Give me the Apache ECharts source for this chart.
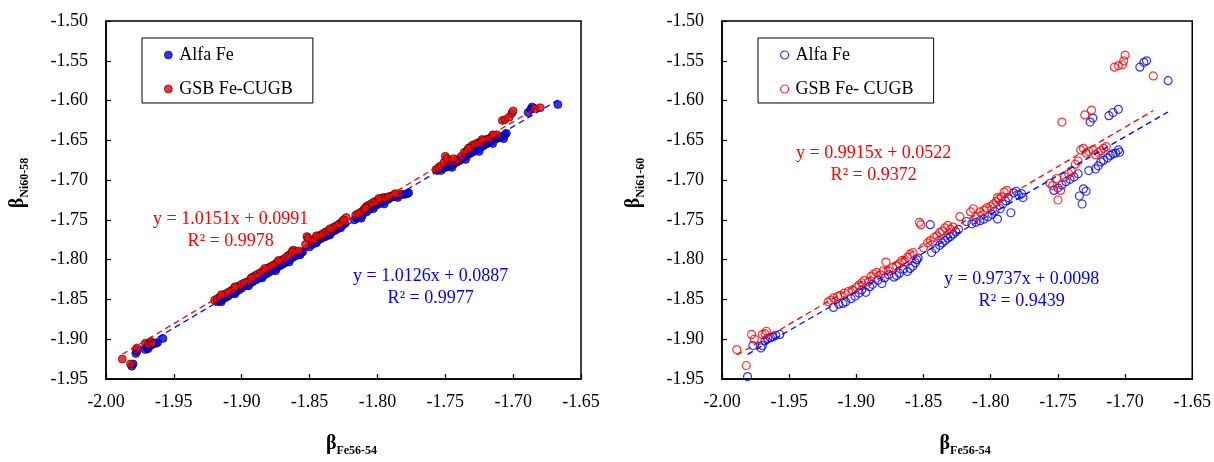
<!DOCTYPE html>
<html>
<head>
<meta charset="utf-8">
<script src="https://cdn.jsdelivr.net/npm/echarts@6/dist/echarts.min.js"></script>
<style>
  html, body { margin: 0; padding: 0; background: #fff; }
  #wrap { width: 1214px; height: 462px; position: relative; }
  #left, #right { position: absolute; top: 0; width: 607px; height: 462px; }
  #left { left: 0; }
  #right { left: 607px; }
</style>
</head>
<body>
<div id="wrap"><div id="left"></div><div id="right"></div></div>
<script>
// ---------- tick setup ----------
const xTicks = { min: -2.00, max: -1.65, interval: 0.05 };
const yTicks = { min: -1.95, max: -1.50, interval: 0.05 };

// ---------- left panel (Ni60-58) ----------
const leftAlfa = [
  [-1.981,-1.934],[-1.980,-1.931],[-1.978,-1.918],[-1.977,-1.915],[-1.971,-1.913],[-1.970,-1.910],[-1.969,-1.912],[-1.967,-1.908],[-1.965,-1.906],[-1.963,-1.905],[-1.962,-1.904],[-1.958,-1.899],
  [-1.918,-1.853],[-1.916,-1.852],[-1.914,-1.849],[-1.912,-1.848],[-1.910,-1.846],[-1.908,-1.843],[-1.906,-1.842],[-1.904,-1.840],[-1.902,-1.838],[-1.900,-1.836],[-1.898,-1.833],[-1.896,-1.832],[-1.894,-1.830],[-1.892,-1.828],[-1.890,-1.826],[-1.888,-1.824],[-1.886,-1.822],[-1.884,-1.820],[-1.882,-1.818],[-1.880,-1.816],[-1.878,-1.814],[-1.876,-1.812],[-1.874,-1.810],[-1.872,-1.808],[-1.870,-1.806],[-1.868,-1.804],[-1.866,-1.801],[-1.864,-1.799],[-1.862,-1.797],[-1.860,-1.795],[-1.858,-1.793],[-1.856,-1.791],[-1.855,-1.790],
  [-1.915,-1.853],[-1.905,-1.843],[-1.895,-1.833],[-1.885,-1.823],[-1.875,-1.814],[-1.865,-1.803],[-1.857,-1.794],
  [-1.850,-1.784],[-1.848,-1.781],[-1.846,-1.778],[-1.844,-1.776],[-1.842,-1.774],[-1.840,-1.772],[-1.838,-1.771],[-1.836,-1.769],[-1.834,-1.766],[-1.832,-1.764],[-1.830,-1.762],[-1.828,-1.760],[-1.826,-1.757],[-1.824,-1.755],
  [-1.845,-1.779],[-1.835,-1.769],[-1.827,-1.760],
  [-1.817,-1.750],[-1.815,-1.748],[-1.813,-1.746],[-1.811,-1.744],[-1.808,-1.740],[-1.806,-1.737],[-1.804,-1.734],[-1.802,-1.732],[-1.800,-1.731],[-1.798,-1.729],[-1.796,-1.727],[-1.794,-1.726],[-1.792,-1.724],[-1.790,-1.722],[-1.788,-1.721],[-1.786,-1.720],[-1.784,-1.719],[-1.782,-1.718],[-1.780,-1.718],[-1.778,-1.717],[-1.777,-1.716],
  [-1.812,-1.748],[-1.803,-1.736],[-1.795,-1.730],[-1.785,-1.722],
  [-1.756,-1.688],[-1.754,-1.686],[-1.752,-1.685],[-1.750,-1.684],[-1.748,-1.683],[-1.746,-1.682],[-1.744,-1.680],[-1.742,-1.678],[-1.740,-1.676],[-1.738,-1.674],[-1.736,-1.671],[-1.734,-1.669],[-1.732,-1.667],[-1.730,-1.665],[-1.728,-1.663],[-1.726,-1.661],[-1.724,-1.659],[-1.722,-1.657],[-1.720,-1.655],[-1.718,-1.653],[-1.716,-1.651],[-1.714,-1.649],[-1.712,-1.648],[-1.710,-1.646],[-1.708,-1.645],[-1.706,-1.643],[-1.705,-1.641],
  [-1.753,-1.688],[-1.745,-1.684],[-1.735,-1.674],[-1.725,-1.664],[-1.715,-1.654],[-1.707,-1.648],
  [-1.689,-1.615],[-1.687,-1.611],[-1.686,-1.608],[-1.667,-1.605]
];
const leftGsb = [
  [-1.988,-1.925],[-1.982,-1.931],[-1.978,-1.913],[-1.977,-1.911],[-1.971,-1.905],[-1.969,-1.906],[-1.967,-1.903],[-1.966,-1.904],
  [-1.920,-1.851],[-1.918,-1.849],[-1.916,-1.847],[-1.914,-1.845],[-1.912,-1.843],[-1.910,-1.841],[-1.908,-1.839],[-1.906,-1.837],[-1.904,-1.835],[-1.902,-1.833],[-1.900,-1.831],[-1.898,-1.829],[-1.896,-1.828],[-1.894,-1.826],[-1.892,-1.822],[-1.890,-1.820],[-1.888,-1.818],[-1.886,-1.816],[-1.884,-1.814],[-1.882,-1.812],[-1.880,-1.810],[-1.878,-1.808],[-1.876,-1.806],[-1.874,-1.804],[-1.872,-1.802],[-1.870,-1.800],[-1.868,-1.798],[-1.866,-1.795],[-1.864,-1.793],[-1.862,-1.788],[-1.860,-1.790],[-1.858,-1.789],
  [-1.915,-1.844],[-1.905,-1.834],[-1.893,-1.823],[-1.883,-1.811],[-1.873,-1.801],[-1.863,-1.790],
  [-1.853,-1.781],[-1.852,-1.771],[-1.851,-1.773],[-1.848,-1.777],[-1.846,-1.774],[-1.844,-1.771],[-1.842,-1.769],[-1.840,-1.767],[-1.838,-1.765],[-1.836,-1.764],[-1.834,-1.762],[-1.832,-1.759],[-1.830,-1.757],[-1.828,-1.755],[-1.826,-1.752],[-1.823,-1.747],
  [-1.845,-1.770],[-1.835,-1.761],[-1.825,-1.750],
  [-1.816,-1.744],[-1.814,-1.742],[-1.812,-1.740],[-1.810,-1.737],[-1.808,-1.733],[-1.806,-1.731],[-1.804,-1.729],[-1.802,-1.727],[-1.800,-1.726],[-1.798,-1.724],[-1.796,-1.722],[-1.794,-1.722],[-1.792,-1.721],[-1.790,-1.720],[-1.788,-1.719],[-1.786,-1.718],[-1.784,-1.717],
  [-1.809,-1.735],[-1.799,-1.723],[-1.787,-1.717],
  [-1.757,-1.687],[-1.755,-1.684],[-1.753,-1.682],[-1.751,-1.678],[-1.750,-1.670],[-1.749,-1.673],[-1.747,-1.676],[-1.745,-1.677],[-1.743,-1.676],[-1.741,-1.674],[-1.738,-1.670],[-1.736,-1.665],[-1.734,-1.663],[-1.732,-1.659],[-1.730,-1.656],[-1.728,-1.655],[-1.726,-1.653],[-1.724,-1.652],[-1.722,-1.650],[-1.720,-1.649],[-1.718,-1.648],[-1.716,-1.646],[-1.714,-1.644],[-1.712,-1.643],
  [-1.744,-1.673],[-1.733,-1.660],[-1.723,-1.649],[-1.715,-1.643],
  [-1.708,-1.625],[-1.706,-1.624],[-1.703,-1.621],[-1.701,-1.616],[-1.700,-1.613],[-1.684,-1.610],[-1.680,-1.609]
];
const leftFitAlfa = [1.0126, 0.0887, 0.9977]; // slope, intercept, R2
const leftFitGsb  = [1.0151, 0.0991, 0.9978];

// ---------- right panel (Ni61-60) ----------
const rightAlfa = [
  [-1.981,-1.947],[-1.977,-1.908],[-1.971,-1.911],[-1.970,-1.908],[-1.968,-1.902],[-1.966,-1.899],[-1.964,-1.898],[-1.962,-1.897],[-1.960,-1.895],[-1.957,-1.894],
  [-1.917,-1.860],[-1.913,-1.856],[-1.910,-1.855],[-1.908,-1.853],[-1.904,-1.849],[-1.901,-1.846],[-1.898,-1.842],[-1.896,-1.838],[-1.893,-1.841],[-1.890,-1.834],[-1.888,-1.831],[-1.884,-1.826],[-1.881,-1.830],[-1.879,-1.823],[-1.876,-1.819],[-1.872,-1.822],[-1.870,-1.820],[-1.868,-1.817],[-1.865,-1.812],[-1.862,-1.815],[-1.860,-1.811],[-1.858,-1.808],[-1.856,-1.804],[-1.855,-1.800],[-1.854,-1.798],
  [-1.845,-1.756],[-1.844,-1.791],[-1.841,-1.786],[-1.838,-1.782],[-1.836,-1.779],[-1.834,-1.776],[-1.832,-1.773],[-1.830,-1.771],[-1.828,-1.768],[-1.826,-1.765],[-1.824,-1.762],[-1.818,-1.752],[-1.814,-1.755],[-1.811,-1.753],[-1.808,-1.751],[-1.805,-1.749],[-1.802,-1.746],[-1.799,-1.743],[-1.797,-1.739],[-1.795,-1.749],[-1.793,-1.736],[-1.791,-1.730],[-1.789,-1.726],[-1.787,-1.722],[-1.785,-1.741],[-1.783,-1.716],[-1.781,-1.714],[-1.779,-1.719],[-1.777,-1.717],[-1.776,-1.722],
  [-1.753,-1.713],[-1.750,-1.710],[-1.747,-1.706],[-1.744,-1.702],[-1.741,-1.699],[-1.738,-1.696],[-1.735,-1.692],[-1.734,-1.720],[-1.732,-1.730],[-1.731,-1.711],[-1.729,-1.714],[-1.727,-1.688],[-1.726,-1.627],[-1.724,-1.622],[-1.722,-1.686],[-1.720,-1.682],[-1.718,-1.677],[-1.716,-1.675],[-1.713,-1.672],[-1.711,-1.669],[-1.709,-1.667],[-1.707,-1.666],[-1.705,-1.662],[-1.704,-1.665],
  [-1.712,-1.619],[-1.709,-1.615],[-1.705,-1.611],
  [-1.689,-1.558],[-1.686,-1.552],[-1.684,-1.550],[-1.668,-1.575]
];
const rightGsb = [
  [-1.989,-1.913],[-1.982,-1.933],[-1.978,-1.894],[-1.976,-1.900],[-1.970,-1.894],[-1.968,-1.893],[-1.967,-1.890],
  [-1.921,-1.853],[-1.919,-1.851],[-1.917,-1.848],[-1.914,-1.846],[-1.912,-1.845],[-1.909,-1.842],[-1.906,-1.840],[-1.903,-1.838],[-1.900,-1.835],[-1.898,-1.832],[-1.896,-1.829],[-1.894,-1.826],[-1.891,-1.828],[-1.889,-1.821],[-1.887,-1.818],[-1.885,-1.816],[-1.882,-1.819],[-1.880,-1.814],[-1.878,-1.803],[-1.876,-1.814],[-1.873,-1.810],[-1.870,-1.808],[-1.868,-1.805],[-1.866,-1.801],[-1.864,-1.803],[-1.862,-1.797],[-1.860,-1.793],[-1.858,-1.791],
  [-1.853,-1.753],[-1.852,-1.756],[-1.850,-1.785],[-1.847,-1.779],[-1.845,-1.776],[-1.842,-1.772],[-1.840,-1.770],[-1.838,-1.766],[-1.836,-1.764],[-1.834,-1.760],[-1.832,-1.757],[-1.830,-1.762],[-1.828,-1.759],[-1.823,-1.746],
  [-1.815,-1.740],[-1.813,-1.736],[-1.811,-1.746],[-1.808,-1.740],[-1.805,-1.738],[-1.803,-1.735],[-1.800,-1.733],[-1.798,-1.730],[-1.796,-1.727],[-1.795,-1.722],[-1.794,-1.724],[-1.792,-1.721],[-1.790,-1.715],[-1.788,-1.713],
  [-1.756,-1.704],[-1.754,-1.707],[-1.751,-1.698],[-1.750,-1.725],[-1.748,-1.713],[-1.747,-1.627],[-1.745,-1.696],[-1.742,-1.692],[-1.740,-1.688],[-1.737,-1.680],[-1.735,-1.676],[-1.733,-1.662],[-1.731,-1.660],[-1.730,-1.618],[-1.729,-1.666],[-1.727,-1.664],[-1.725,-1.612],[-1.724,-1.662],[-1.722,-1.668],[-1.720,-1.665],[-1.718,-1.663],[-1.716,-1.660],[-1.714,-1.658],
  [-1.708,-1.558],[-1.705,-1.556],[-1.702,-1.555],[-1.701,-1.550],[-1.700,-1.543],[-1.679,-1.569]
];
const rightFitAlfa = [0.9737, 0.0098, 0.9439];
const rightFitGsb  = [0.9915, 0.0522, 0.9372];

// ---------- labels ----------
const xName = ['β', 'Fe56-54'];
const leftYName = ['β', 'Ni60-58'];
const rightYName = ['β', 'Ni61-60'];
const leftNames = ['Alfa Fe', 'GSB Fe-CUGB'];
const rightNames = ['Alfa Fe', 'GSB Fe- CUGB'];

const FONT = '"Liberation Serif", "Times New Roman", serif';
const BLUE = '#0000ff', RED = '#ff0000';

function fitLine(data, fit) {
  let xs = data.map(d => d[0]);
  let lo = Math.min.apply(null, xs), hi = Math.max.apply(null, xs);
  return [[lo, fit[0] * lo + fit[1]], [hi, fit[0] * hi + fit[1]]];
}
function eqText(fit) {
  return 'y = ' + fit[0].toFixed(4) + 'x + ' + fit[1].toFixed(4) + '\nR² = ' + fit[2].toFixed(4);
}
function axisName(parts) { return '{b|' + parts[0] + '}{s|' + parts[1] + '}'; }
const nameRich = {
  b: { fontFamily: FONT, fontSize: 20, fontWeight: 'bold', color: '#000' },
  s: { fontFamily: FONT, fontSize: 12, fontWeight: 'bold', color: '#000', verticalAlign: 'bottom', padding: [0, 0, -3, 0] }
};

function build(cfg) {
  const axisCommon = {
    type: 'value',
    interval: 0.05,
    axisLine: { show: true, onZero: false, lineStyle: { color: '#000', width: 1.5 } },
    axisTick: { show: true, inside: true, length: 5, lineStyle: { color: '#000', width: 1.2 } },
    splitLine: { show: false },
    axisLabel: { fontFamily: FONT, fontSize: 18, color: '#000', formatter: v => v.toFixed(2) },
    nameLocation: 'middle'
  };
  const scatterStyle = (color) => cfg.hollow
    ? { color: 'rgba(0,0,0,0)', borderColor: color, borderWidth: 1.2 }
    : { color: color, borderColor: '#000', borderWidth: 0.7 };
  return {
    animation: false,
    backgroundColor: '#fff',
    grid: { left: cfg.gridLeft, width: 475, top: 21, height: 368, show: true, borderColor: '#000', borderWidth: 1.5, backgroundColor: 'transparent' },
    xAxis: Object.assign({}, axisCommon, {
      min: xTicks.min, max: xTicks.max, interval: xTicks.interval,
      axisLabel: Object.assign({}, axisCommon.axisLabel, { margin: 14 }),
      name: axisName(xName), nameGap: 55,
      nameTextStyle: { rich: nameRich, padding: [0, 0, 0, 16] }
    }),
    yAxis: Object.assign({}, axisCommon, {
      min: yTicks.min, max: yTicks.max, interval: yTicks.interval,
      axisLabel: Object.assign({}, axisCommon.axisLabel, { margin: 18 }),
      name: axisName(cfg.yName), nameGap: 78,
      nameTextStyle: { rich: nameRich, padding: [0, 0, 0, 34] }
    }),
    legend: {
      left: cfg.legendLeft, top: 38, orient: 'vertical',
      borderColor: '#000', borderWidth: 1, borderRadius: 0,
      padding: [8, 20, 5, 22], itemGap: 16,
      itemWidth: 12, itemHeight: 8,
      textStyle: { fontFamily: FONT, fontSize: 18, color: '#000' },
      data: [
        { name: cfg.names[0], icon: 'circle', itemStyle: scatterStyle(BLUE) },
        { name: cfg.names[1], icon: 'circle', itemStyle: scatterStyle(RED) }
      ]
    },
    graphic: [
      { type: 'text', left: cfg.redEq[0], top: cfg.redEq[1], style: { text: eqText(cfg.fitGsb), fill: RED, font: '18px ' + FONT, textAlign: 'center', lineHeight: 22 } },
      { type: 'text', left: cfg.blueEq[0], top: cfg.blueEq[1], style: { text: eqText(cfg.fitAlfa), fill: BLUE, font: '18px ' + FONT, textAlign: 'center', lineHeight: 22 } }
    ],
    series: [
      { name: cfg.names[0], type: 'scatter', data: cfg.alfa, symbol: 'circle', symbolSize: 8, itemStyle: scatterStyle(BLUE), z: 2 },
      { name: cfg.names[1], type: 'scatter', data: cfg.gsb, symbol: 'circle', symbolSize: 8, itemStyle: scatterStyle(RED), z: 3 },
      { type: 'line', data: fitLine(cfg.alfa, cfg.fitAlfa), symbol: 'none', silent: true, z: 4,
        lineStyle: { color: BLUE, width: 1.3, type: [6, 4] } },
      { type: 'line', data: fitLine(cfg.gsb, cfg.fitGsb), symbol: 'none', silent: true, z: 4,
        lineStyle: { color: RED, width: 1.3, type: [6, 4] } }
    ]
  };
}

const leftChart = echarts.init(document.getElementById('left'), null, { renderer: 'canvas' });
leftChart.setOption(build({
  gridLeft: 106, yName: leftYName, names: leftNames, hollow: false,
  alfa: leftAlfa, gsb: leftGsb, fitAlfa: leftFitAlfa, fitGsb: leftFitGsb,
  legendLeft: 142, redEq: [153, 208], blueEq: [353, 265]
}));

const rightChart = echarts.init(document.getElementById('right'), null, { renderer: 'canvas' });
rightChart.setOption(build({
  gridLeft: 115, yName: rightYName, names: rightNames, hollow: true,
  alfa: rightAlfa, gsb: rightGsb, fitAlfa: rightFitAlfa, fitGsb: rightFitGsb,
  legendLeft: 151, redEq: [189, 142], blueEq: [337, 268]
}));
</script>
</body>
</html>
